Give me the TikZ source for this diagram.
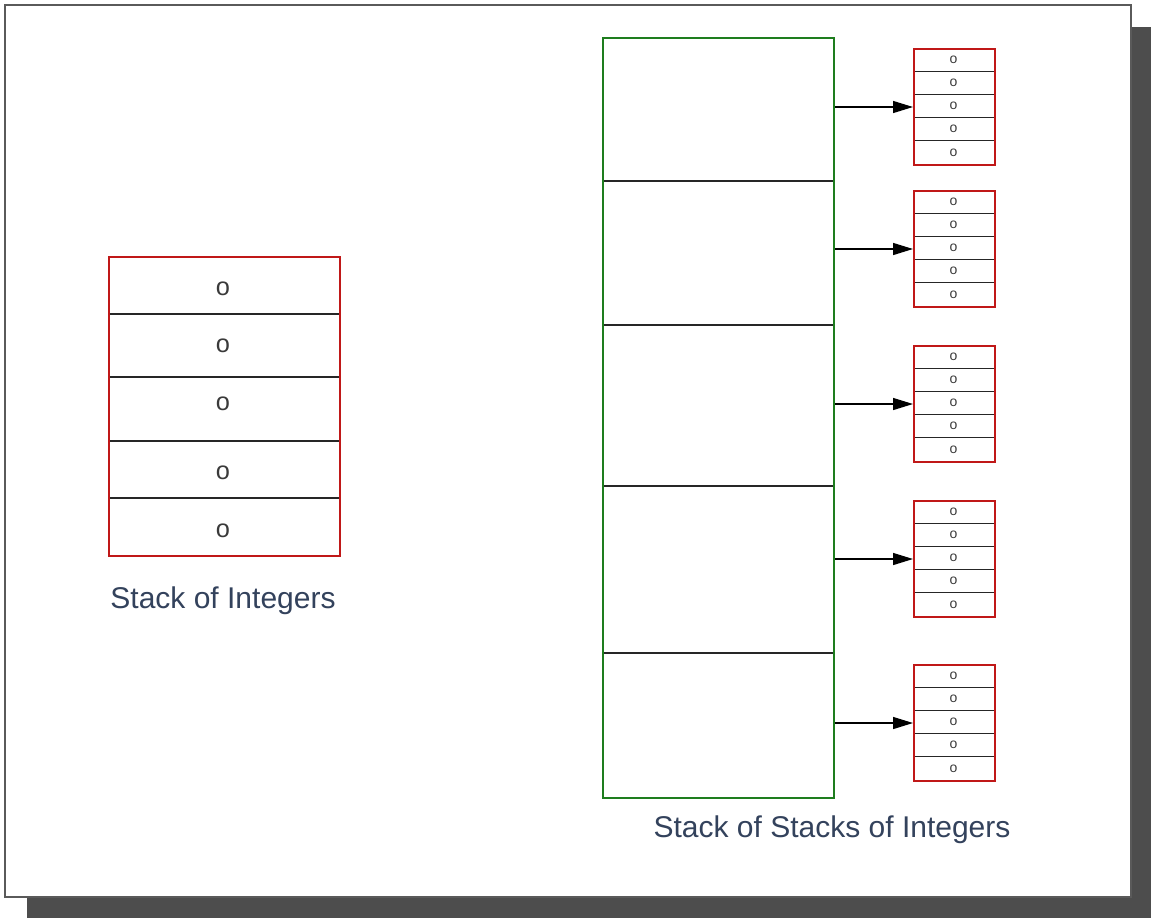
\documentclass[tikz,border=0pt]{standalone}
\usepackage{fontspec}
\setmainfont{Liberation Sans}
\usetikzlibrary{arrows.meta}
\definecolor{framegray}{HTML}{5A5A5A}
\definecolor{shadowgray}{HTML}{4D4D4D}
\definecolor{stackred}{HTML}{C01818}
\definecolor{outergreen}{HTML}{1E7D1E}
\definecolor{labelblue}{HTML}{33425C}
\definecolor{cellgray}{HTML}{3A3A3A}
\begin{document}
\begin{tikzpicture}[x=0.75pt,y=-0.75pt,
  redbox/.style={draw=stackred, line width=1.5pt, inner sep=0pt, anchor=north west},
  greenbox/.style={draw=outergreen, line width=1.5pt, inner sep=0pt, anchor=north west},
  divider/.style={draw=black!85, line width=1pt},
  bigcell/.style={text=cellgray, font=\fontsize{19}{19}\selectfont, inner sep=0pt},
  smallcell/.style={text=cellgray, font=\fontsize{10.5}{10.5}\selectfont, inner sep=0pt},
  caption/.style={text=labelblue, font=\fontsize{22.5}{27}\selectfont, inner sep=0pt},
  link/.style={draw=black, line width=1pt, -{Triangle[length=15pt,width=9pt]}}]

\useasboundingbox (0,0) rectangle (1151,918);

% page with drop shadow
\fill[shadowgray] (27,27) rectangle (1151,918);
\draw[framegray, line width=1.5pt, fill=white] (5,5) rectangle (1131,897);

% single stack of integers
\node[redbox, minimum width={231*0.75pt}, minimum height={299*0.75pt}] (single) at (108,256) {};
\foreach \yy in {314,377,441,498}
  \draw[divider] (single.west |- 0,\yy) -- (single.east |- 0,\yy);
\node[redbox, minimum width={231*0.75pt}, minimum height={299*0.75pt}] at (108,256) {};
\foreach \yy [count=\i] in {289,346,404,473,531}
  \node[bigcell] (single-\i) at (223,\yy) {o};
\node[caption] (captionA) at (223,601) {Stack of Integers};

% outer stack holding five stacks
\node[greenbox, minimum width={231*0.75pt}, minimum height={760*0.75pt}] (outer) at (602,37) {};
\foreach \yy in {181,325,486,653}
  \draw[divider] (outer.west |- 0,\yy) -- (outer.east |- 0,\yy);
\node[greenbox, minimum width={231*0.75pt}, minimum height={760*0.75pt}] at (602,37) {};
\node[caption] (captionB) at (832,830) {Stack of Stacks of Integers};

% the five inner stacks
\foreach \top [count=\k] in {48,190,345,500,664} {
  \node[redbox, minimum width={81*0.75pt}, minimum height={116*0.75pt}] (inner-\k) at (913,\top) {};
  \foreach \r in {1,...,4}
    \draw[divider] (inner-\k.west |- 0,{\top+23.2*\r}) -- (inner-\k.east |- 0,{\top+23.2*\r});
  \node[redbox, minimum width={81*0.75pt}, minimum height={116*0.75pt}] at (913,\top) {};
  \foreach \r in {0,...,4}
    \node[smallcell] (inner-\k-\r) at (953.5,{\top+11.6+23.2*\r}) {o};
  \draw[link] (inner-\k.west -| outer.east) -- (inner-\k.west);
}
\end{tikzpicture}
\end{document}
